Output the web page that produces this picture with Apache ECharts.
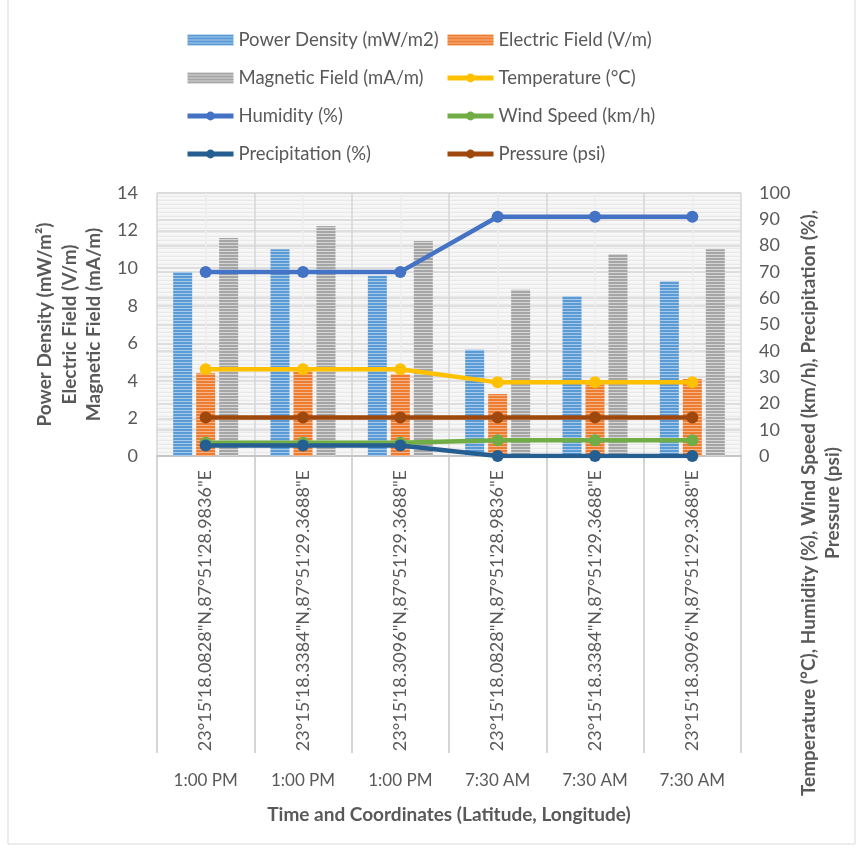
<!DOCTYPE html>
<html>
<head>
<meta charset="utf-8">
<script src="https://cdn.jsdelivr.net/npm/echarts@6/dist/echarts.min.js"></script>
<style>
  html, body { margin: 0; padding: 0; background: #ffffff; }
  #chart { width: 862px; height: 849px; }
</style>
</head>
<body>
<div id="chart"></div>
<script>
// Field survey readings: RF exposure and weather, per time and site
const times = ['1:00 PM', '1:00 PM', '1:00 PM', '7:30 AM', '7:30 AM', '7:30 AM'];
const coordinates = [
  '23°15\'18.0828"N,87°51\'28.9836"E',
  '23°15\'18.3384"N,87°51\'29.3688"E',
  '23°15\'18.3096"N,87°51\'29.3688"E',
  '23°15\'18.0828"N,87°51\'28.9836"E',
  '23°15\'18.3384"N,87°51\'29.3688"E',
  '23°15\'18.3096"N,87°51\'29.3688"E'
];
const powerDensity = [9.8, 11.0, 9.6, 5.65, 8.5, 9.3];
const electricField = [4.4, 4.5, 4.35, 3.3, 3.8, 4.1];
const magneticField = [11.6, 12.25, 11.45, 8.85, 10.75, 11.0];
const temperature = [33, 33, 33, 28, 28, 28];
const humidity = [70, 70, 70, 91, 91, 91];
const windSpeed = [5, 5, 5, 6, 6, 6];
const precipitation = [4, 4, 4, 0, 0, 0];
const pressure = [14.6, 14.6, 14.6, 14.6, 14.6, 14.6];

const leftTicks = { min: 0, max: 14, interval: 2 };
const rightTicks = { min: 0, max: 100, interval: 10 };

const FONT = 'Lato';
const TEXT = '#595959';
const GRID_LINE = '#d9d9d9';

// Horizontal-stripe fill used by the bars and the plot background
function stripes(rows) {
  const c = document.createElement('canvas');
  c.width = 4;
  c.height = rows.length;
  const ctx = c.getContext('2d');
  rows.forEach((col, i) => { ctx.fillStyle = col; ctx.fillRect(0, i, 4, 1); });
  return { image: c, repeat: 'repeat' };
}
const bluePat = stripes(['#5b9bd5', '#5b9bd5', '#a7c9ea']);
const orangePat = stripes(['#ed7d31', '#ed7d31', '#f6b48a']);
const grayPat = stripes(['#a5a5a5', '#a5a5a5', '#d6d6d6']);
const bgPat = stripes(['#e9e9e9', '#f7f7f7', '#f7f7f7', '#f3f3f3']);

function barSeries(name, data, pat) {
  return {
    name, type: 'bar', data, xAxisIndex: 0, yAxisIndex: 0,
    barWidth: 19, barGap: '21%',
    itemStyle: { color: pat }
  };
}
function lineSeries(name, data, color) {
  return {
    name, type: 'line', data, xAxisIndex: 0, yAxisIndex: 1,
    symbol: 'circle', symbolSize: 12,
    lineStyle: { color, width: 4.5 },
    itemStyle: { color },
    z: 3
  };
}

const chart = echarts.init(document.getElementById('chart'), null, { renderer: 'canvas' });

const legendText = { color: TEXT, fontFamily: FONT, fontSize: 18.5, lineHeight: 20 };
const legendCommon = {
  orient: 'vertical', top: 25, itemWidth: 46, itemHeight: 11, itemGap: 18,
  textStyle: legendText, selectedMode: false,
  lineStyle: { width: 5 }
};

chart.setOption({
  backgroundColor: '#ffffff',
  animation: false,
  textStyle: { fontFamily: FONT },
  grid: {
    left: 157, right: 121, top: 193, bottom: 393,
    show: true, borderWidth: 0, backgroundColor: bgPat
  },
  legend: [
    Object.assign({}, legendCommon, {
      left: 180,
      data: [
        { name: 'Power Density (mW/m2)', icon: 'rect' },
        { name: 'Magnetic Field (mA/m)', icon: 'rect' },
        'Humidity (%)',
        'Precipitation (%)'
      ]
    }),
    Object.assign({}, legendCommon, {
      left: 440,
      data: [
        { name: 'Electric Field (V/m)', icon: 'rect' },
        'Temperature (°C)',
        'Wind Speed (km/h)',
        'Pressure (psi)'
      ]
    })
  ],
  xAxis: [
    {
      type: 'category', data: coordinates, position: 'bottom',
      axisLine: { lineStyle: { color: '#bfbfbf', width: 1.5 } },
      axisTick: { show: true, length: 297, lineStyle: { color: '#c8c8c8', width: 1.5 } },
      axisLabel: { rotate: 90, margin: 14, color: TEXT, fontSize: 18, fontFamily: FONT },
      splitLine: { show: false }
    },
    {
      type: 'category', data: times, position: 'bottom', offset: 300,
      axisLine: { show: false },
      axisTick: { show: true, length: 37, lineStyle: { color: '#c8c8c8', width: 1.5 } },
      axisLabel: { margin: 16, color: TEXT, fontSize: 17, fontFamily: FONT },
      name: 'Time and Coordinates (Latitude, Longitude)',
      nameLocation: 'middle', nameGap: 49,
      nameTextStyle: { color: TEXT, fontSize: 19, fontWeight: 'bold', fontFamily: FONT }
    },
    {
      // half-category guide lines: darker at boundaries, lighter at centres
      type: 'value', min: 0, max: 12, interval: 1, position: 'top',
      axisLine: { show: false }, axisTick: { show: false }, axisLabel: { show: false },
      splitLine: { show: true, lineStyle: { color: ['#d6d6d6', '#ececec'], width: 1.5 } }
    }
  ],
  yAxis: [
    {
      type: 'value', position: 'left',
      min: leftTicks.min, max: leftTicks.max, interval: leftTicks.interval,
      axisLine: { show: false }, axisTick: { show: false },
      axisLabel: { color: TEXT, fontSize: 18, margin: 19, fontFamily: FONT },
      splitLine: { lineStyle: { color: GRID_LINE, width: 1.5 } },
      name: 'Power Density (mW/m²)\nElectric Field (V/m)\nMagnetic Field (mA/m)',
      nameLocation: 'middle', nameGap: 44,
      nameTextStyle: { color: TEXT, fontSize: 19, fontWeight: 'bold', lineHeight: 24.5, fontFamily: FONT }
    },
    {
      type: 'value', position: 'right',
      min: rightTicks.min, max: rightTicks.max, interval: rightTicks.interval,
      axisLine: { show: false }, axisTick: { show: false },
      axisLabel: { color: TEXT, fontSize: 18, margin: 18, fontFamily: FONT },
      splitLine: { lineStyle: { color: GRID_LINE, width: 1.5 } }
    }
  ],
  graphic: [
    {
      type: 'text', x: 821, y: 503, rotation: Math.PI / 2,
      style: {
        text: 'Temperature (°C), Humidity (%), Wind Speed (km/h), Precipitation (%),\nPressure (psi)',
        fill: TEXT, font: 'bold 19px Lato', lineHeight: 24,
        align: 'center', verticalAlign: 'middle'
      }
    },
    {
      type: 'rect', shape: { x: 8, y: -2, width: 847, height: 846 },
      style: { fill: 'none', stroke: '#d9d9d9', lineWidth: 1 }, silent: true, z: -10
    }
  ],
  series: [
    barSeries('Power Density (mW/m2)', powerDensity, bluePat),
    barSeries('Electric Field (V/m)', electricField, orangePat),
    barSeries('Magnetic Field (mA/m)', magneticField, grayPat),
    lineSeries('Temperature (°C)', temperature, '#ffc000'),
    lineSeries('Humidity (%)', humidity, '#4472c4'),
    lineSeries('Wind Speed (km/h)', windSpeed, '#70ad47'),
    lineSeries('Precipitation (%)', precipitation, '#255e91'),
    lineSeries('Pressure (psi)', pressure, '#9e480e')
  ]
});
</script>
</body>
</html>
